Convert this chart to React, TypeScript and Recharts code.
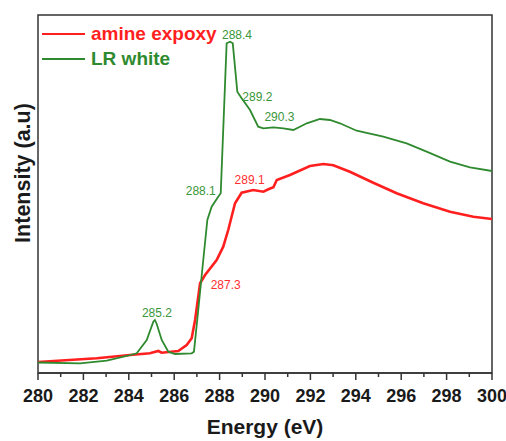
import React from 'react';
import {
  ComposedChart, Line, Scatter, XAxis, YAxis, ReferenceArea, Legend, Label
} from 'recharts';

// LR white spectrum (energy in eV, intensity in a.u.)
const lrWhiteEnergy = [280, 281.85, 283.03, 283.91, 284.35, 284.79, 285.08, 285.15, 285.23, 285.45, 285.74, 286.04,
  286.77, 286.87, 287.06, 287.28, 287.46, 287.65, 287.94, 288.05, 288.31, 288.46, 288.58, 288.78, 288.97, 289.34,
  289.7, 289.93, 290.37, 290.81, 291.25, 291.84, 292.42, 292.86, 293.3, 294.04, 295.21, 296.24, 297.12, 298.15,
  299.03, 300];
const lrWhiteIntensity = [10.5, 9.7, 12.3, 17, 19.7, 33, 51.3, 53, 49, 33, 21.3, 19,
  19.7, 21.3, 63, 113, 153, 166.3, 176.3, 179.7, 329.7, 331.3, 329.7, 281.3, 274.7, 263,
  246.3, 244.7, 245.7, 244.7, 243, 249.7, 254, 253, 249.7, 242.3, 236.3, 229.7, 221.3, 211.3,
  205.7, 202];

// amine expoxy spectrum
const amineEnergy = [280, 282.59, 284.05, 284.93, 285.3, 285.45, 286.18, 286.55, 286.77, 286.92, 287.14, 287.36,
  287.87, 288.16, 288.38, 288.68, 288.97, 289.48, 289.93, 290.15, 290.37, 290.52, 291.1, 291.98,
  292.57, 293.01, 293.74, 294.77, 295.8, 296.97, 298.15, 299.18, 300];
const amineIntensity = [11, 14.7, 18, 19.7, 22, 20.3, 22, 28, 34.7, 53, 89.7, 98,
  113, 126.3, 143, 169.7, 180.3, 183, 181.3, 183.7, 185.7, 193, 198, 207,
  209, 207.7, 201.3, 190.3, 179.7, 169.7, 161.3, 156.3, 154];

// peak annotations, anchored on the curves
const lrWhitePeaks = [
  { e: 285.15, i: 53, text: '285.2' },
  { e: 288.05, i: 179.7, text: '288.1' },
  { e: 288.46, i: 331.3, text: '288.4' },
  { e: 288.78, i: 281.3, text: '289.2' },
  { e: 290.37, i: 245.7, text: '290.3' },
];
const aminePeaks = [
  { e: 289.19, i: 182, text: '289.1' },
  { e: 287.21, i: 93, text: '287.3' },
];

const energyTicks = [280, 281, 282, 283, 284, 285, 286, 287, 288, 289, 290, 291, 292, 293, 294, 295, 296, 297, 298, 299, 300];

const RED = '#ff1f1f';
const GREEN = '#2f8a2f';
const FONT = '"Liberation Sans", Arial, sans-serif';

// label offsets from the anchor point (px)
const labelOffsets: Record<string, [number, number]> = {
  '285.2': [2, -7], '288.1': [-20, -3], '288.4': [7, -7], '289.2': [20, 5], '290.3': [6, -11],
  '289.1': [3, -11], '287.3': [24, 5],
};

const toRows = (es: number[], is: number[]) => es.map((e, k) => ({ e, i: is[k] }));
const lrWhite = toRows(lrWhiteEnergy, lrWhiteIntensity);
const amine = toRows(amineEnergy, amineIntensity);

const peakShape = (color: string) => (p: any) => {
  const [dx, dy] = labelOffsets[p.payload.text] || [0, 0];
  return (
    <text x={p.cx + dx} y={p.cy + dy} dy="0.35em" textAnchor="middle" fontSize={12}
      fontFamily={FONT} fill={color}>{p.payload.text}</text>
  );
};

const EnergyTick = (props: any) => {
  const { x, y, payload } = props;
  const major = payload.value % 2 === 0;
  return (
    <g>
      <line x1={x} y1={y} x2={x} y2={y + (major ? 7 : 4)} stroke="#333" strokeWidth={1.5} />
      {major && (
        <text x={x} y={y + 29} textAnchor="middle" fontSize={18} fontWeight="bold"
          fontFamily={FONT} fill="#1a1a1a">{payload.value}</text>
      )}
    </g>
  );
};

const legendItems = [
  { name: 'amine expoxy', color: RED },
  { name: 'LR white', color: GREEN },
];

const LegendBox = () => (
  <div style={{ fontFamily: FONT }}>
    {legendItems.map(it => (
      <div key={it.name} style={{ display: 'flex', alignItems: 'center', height: 25 }}>
        <div style={{ width: 43, height: 2, background: it.color, marginRight: 6 }} />
        <span style={{ color: it.color, fontWeight: 'bold', fontSize: 19, whiteSpace: 'nowrap' }}>{it.name}</span>
      </div>
    ))}
  </div>
);

export default function App() {
  return (
    <div style={{ position: 'absolute', left: 0, top: 0, background: '#fff' }}>
      <ComposedChart width={506} height={441} margin={{ top: 15, right: 14, bottom: 18, left: 0 }}>
        <XAxis dataKey="e" type="number" domain={[280, 300]} ticks={energyTicks} interval={0}
          allowDataOverflow tickSize={0} tickMargin={0} tickLine={false} height={50}
          axisLine={{ stroke: '#333', strokeWidth: 1.5 }} tick={<EnergyTick />}>
          <Label content={({ viewBox }: any) => (
            <text x={viewBox.x + viewBox.width / 2} y={viewBox.y + 61} textAnchor="middle"
              fontSize={21} fontWeight="bold" fontFamily={FONT} fill="#1a1a1a">Energy (eV)</text>
          )} />
        </XAxis>
        <YAxis type="number" dataKey="i" domain={[0, 358]} allowDataOverflow width={38}
          tick={false} tickLine={false} axisLine={false}>
          <Label content={({ viewBox }: any) => {
            const cx = viewBox.x + 22;
            const cy = viewBox.y + viewBox.height / 2 - 21;
            return (
              <text x={cx} y={cy} dy="0.35em" textAnchor="middle" transform={`rotate(-90 ${cx} ${cy})`}
                fontSize={21.5} fontWeight="bold" fontFamily={FONT} fill="#1a1a1a">Intensity (a.u)</text>
            );
          }} />
        </YAxis>
        <ReferenceArea x1={280} x2={300} y1={0} y2={358} fill="none" stroke="#333" strokeWidth={1.5}
          ifOverflow="visible" />
        <Legend content={<LegendBox />} layout="horizontal" verticalAlign="middle" align="center"
          wrapperStyle={{ position: 'absolute', left: 42, top: 21, width: 'auto', height: 'auto' }} />
        <Line data={amine} dataKey="i" name="amine expoxy" type="linear" stroke={RED} strokeWidth={2.6}
          dot={false} isAnimationActive={false} />
        <Line data={lrWhite} dataKey="i" name="LR white" type="linear" stroke={GREEN} strokeWidth={1.8}
          dot={false} isAnimationActive={false} />
        <Scatter data={lrWhitePeaks} dataKey="i" shape={peakShape('#3a963a')} isAnimationActive={false}
          legendType="none" />
        <Scatter data={aminePeaks} dataKey="i" shape={peakShape('#ff3030')} isAnimationActive={false}
          legendType="none" />
      </ComposedChart>
    </div>
  );
}
